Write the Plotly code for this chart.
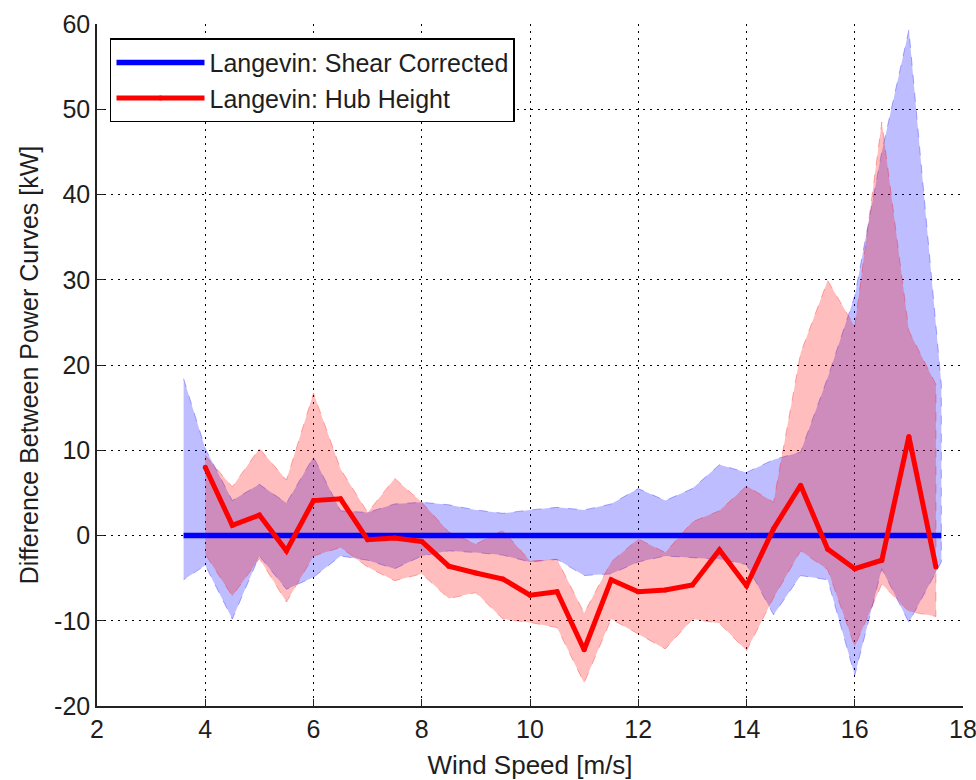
import plotly.graph_objects as go

# ---- data ----
red_x = [4.0, 4.5, 5.0, 5.5, 6.0, 6.5, 7.0, 7.5, 8.0, 8.5, 9.0, 9.5, 10.0, 10.5,
         11.0, 11.5, 12.0, 12.5, 13.0, 13.5, 14.0, 14.5, 15.0, 15.5, 16.0, 16.5, 17.0, 17.5]
red_mean = [8.0, 1.2, 2.4, -1.8, 4.1, 4.3, -0.5, -0.3, -0.7, -3.6, -4.4, -5.1, -7.0, -6.6,
            -13.4, -5.2, -6.6, -6.4, -5.8, -1.7, -5.9, 0.8, 5.9, -1.6, -3.9, -2.9, 11.6, -3.7]
red_upper = [9.4, 5.7, 10.2, 6.5, 16.7, 7.8, 2.7, 6.7, 3.9, 0.4, -1.0, 0.6, -3.0, -2.8,
             -9.1, -3.1, -0.4, -2.0, 1.6, 2.9, 5.8, 3.9, 21.4, 29.9, 24.5, 48.5, 24.0, 17.7]
red_lower = [-2.2, -7.1, -2.7, -7.8, -2.4, -1.4, -3.7, -5.3, -4.5, -7.4, -6.7, -9.8, -10.2, -10.8,
             -17.3, -9.8, -11.6, -13.3, -9.8, -10.3, -13.5, -7.3, -1.8, -4.0, -13.0, -5.7, -8.9, -9.5]

blue_x = [3.6, 4.0, 4.5, 5.0, 5.5, 6.0, 6.5, 7.0, 7.5, 8.0, 8.5, 9.0, 9.5, 10.0, 10.5,
          11.0, 11.5, 12.0, 12.5, 13.0, 13.5, 14.0, 14.5, 15.0, 15.5, 16.0, 16.5, 17.0, 17.6]
blue_mean = [0.0] * len(blue_x)
blue_upper = [18.4, 10.2, 4.1, 6.0, 3.8, 9.2, 2.9, 2.7, 3.7, 3.9, 3.6, 3.0, 2.6, 3.0, 3.3,
              3.0, 3.7, 5.5, 4.1, 5.5, 8.3, 7.4, 8.9, 9.8, 18.5, 28.1, 45.0, 59.3, 17.7]
blue_lower = [-5.2, -3.5, -9.8, -2.4, -6.3, -4.9, -2.4, -2.9, -3.9, -2.4, -1.8, -2.0, -2.3, -3.1, -2.8,
              -4.7, -4.5, -3.1, -2.4, -2.6, -2.8, -3.4, -9.3, -4.7, -5.2, -16.4, -3.9, -10.2, -3.1]

x_ticks = [2, 4, 6, 8, 10, 12, 14, 16, 18]
y_ticks = [-20, -10, 0, 10, 20, 30, 40, 50, 60]

FONT = "Liberation Sans, Arial, sans-serif"
TXT = "#1e1e1e"

fig = go.Figure()

# confidence bands
fig.add_trace(go.Scatter(
    x=blue_x + blue_x[::-1], y=blue_upper + blue_lower[::-1],
    fill="toself", fillcolor="rgba(0,0,255,0.26)", mode="lines",
    line=dict(color="rgba(0,0,255,0.30)", width=1, dash="dash"),
    showlegend=False, hoverinfo="skip"))
fig.add_trace(go.Scatter(
    x=red_x + red_x[::-1], y=red_upper + red_lower[::-1],
    fill="toself", fillcolor="rgba(255,0,0,0.26)", mode="lines",
    line=dict(color="rgba(255,0,0,0.30)", width=1, dash="dash"),
    showlegend=False, hoverinfo="skip"))

# mean lines
fig.add_trace(go.Scatter(
    x=blue_x, y=blue_mean, mode="lines", name="Langevin: Shear Corrected",
    line=dict(color="#0000ff", width=5.5)))
fig.add_trace(go.Scatter(
    x=red_x, y=red_mean, mode="lines+markers", name="Langevin: Hub Height",
    line=dict(color="#ff0000", width=5), marker=dict(size=5, color="#ff0000")))

axis_common = dict(
    showline=True, linecolor="#222222", linewidth=1.5, mirror=False,
    ticks="inside", ticklen=7, tickcolor="#222222", tickwidth=1,
    showgrid=True, gridcolor="black", gridwidth=1, griddash="2px,5px",
    zeroline=False, tickfont=dict(family=FONT, size=25, color=TXT),
    ticklabeloverflow="allow",
)

fig.update_xaxes(range=[2, 18], tickvals=x_ticks, ticktext=[str(v) for v in x_ticks],
                 title=dict(text="Wind Speed [m/s]", font=dict(family=FONT, size=26, color=TXT), standoff=14),
                 **axis_common)
fig.update_yaxes(range=[-20, 60], tickvals=y_ticks, ticktext=[str(v) for v in y_ticks],
                 title=dict(text="Difference Between Power Curves [kW]", font=dict(family=FONT, size=25, color=TXT), standoff=8),
                 **axis_common)

fig.update_layout(
    width=976, height=780,
    margin=dict(l=97, r=13, t=24, b=74, autoexpand=False),
    paper_bgcolor="white", plot_bgcolor="white",
    font=dict(family=FONT, size=25, color=TXT),
    legend=dict(x=0.015, y=0.979, xanchor="left", yanchor="top",
                bgcolor="white", bordercolor="black", borderwidth=1.5,
                font=dict(family=FONT, size=25, color=TXT),
                itemwidth=88, tracegroupgap=0),
)

fig.write_html("out.html")
